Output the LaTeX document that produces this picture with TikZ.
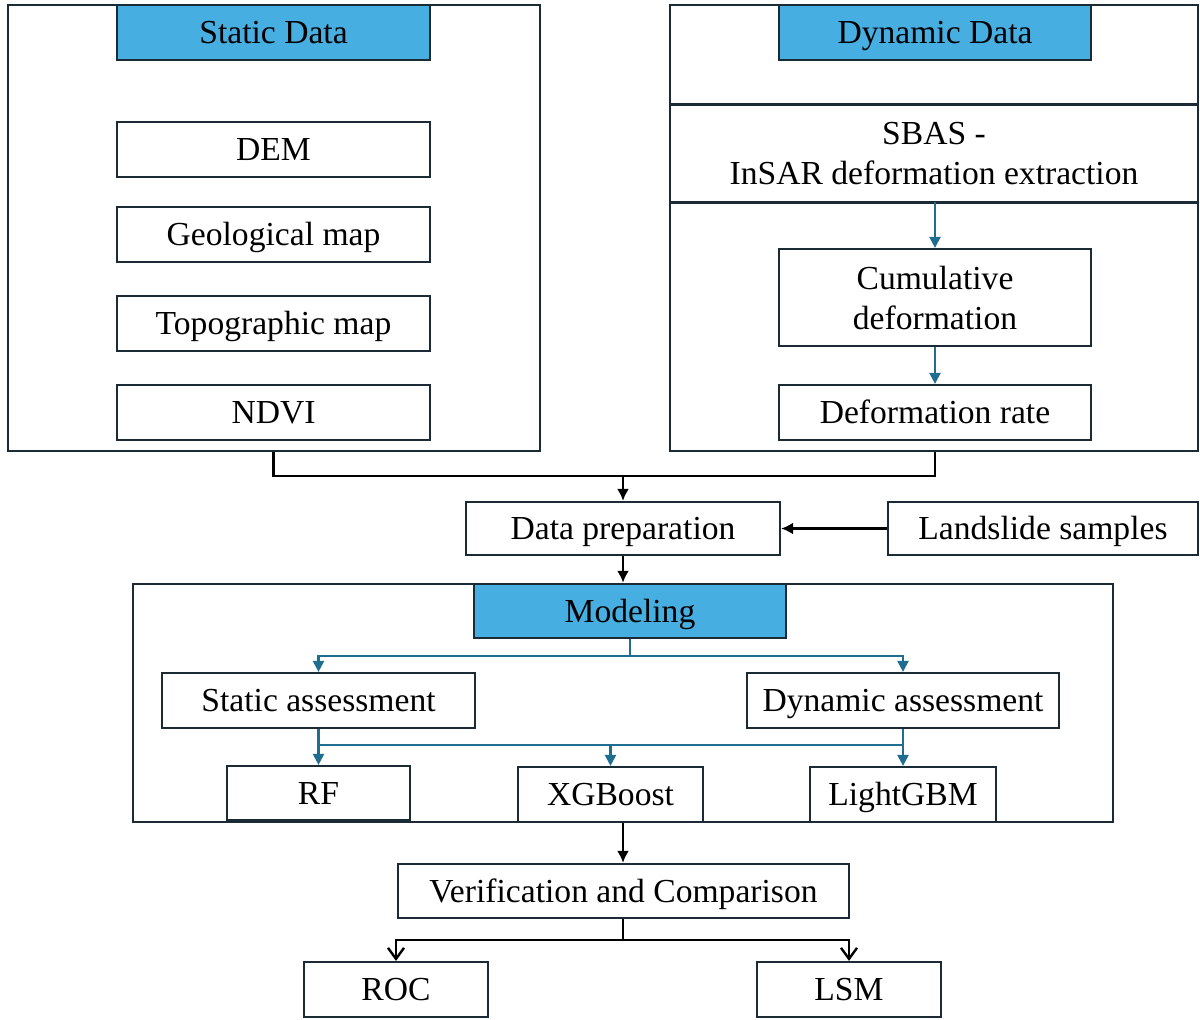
\documentclass[tikz,border=0pt]{standalone}
\usepackage{fontspec}
\setmainfont{Liberation Serif}
\usetikzlibrary{arrows.meta}
\definecolor{hdrblue}{HTML}{46AEE0}
\definecolor{arrblue}{HTML}{1F6E8F}
\definecolor{frame}{HTML}{1B2B35}
\tikzset{
  bx/.style 2 args={draw=frame, line width=1.1pt, fill=white, minimum width=#1*0.5pt, minimum height=#2*0.5pt, inner sep=0pt, align=center},
  one/.style={text height=13.3pt, text depth=2.1pt},
  hdr/.style 2 args={bx={#1}{#2}, fill=hdrblue},
  outer/.style 2 args={draw=frame, line width=1.2pt, minimum width=#1*0.5pt, minimum height=#2*0.5pt, inner sep=0pt},
  blk/.style={draw=black, line width=1.2pt, -{Latex[length=6pt,width=6pt]}},
  opn/.style={draw=black, line width=1.2pt, -{Straight Barb[length=5.5pt,width=8pt]}},
  blu/.style={draw=arrblue, line width=1.1pt, -{Triangle[length=5.5pt,width=5.5pt]}},
  bluline/.style={draw=arrblue, line width=1.1pt},
}
\begin{document}
\begin{tikzpicture}[x=0.5pt,y=-0.5pt, every node/.style={font=\fontsize{16.8}{20}\selectfont}]
\useasboundingbox (0,0) rectangle (1200,1019);
% static block
\node[outer={532}{446}] (static) at (274,228) {};
\node[hdr={313}{55}, one] (sdata) at (273.5,32.5) {Static Data};
\node[bx={313}{55}, one] (dem) at (273.5,149.5) {DEM};
\node[bx={313}{55}, one] (geo) at (273.5,234.5) {Geological map};
\node[bx={313}{55}, one] (topo) at (273.5,323.5) {Topographic map};
\node[bx={313}{55}, one] (ndvi) at (273.5,412.5) {NDVI};
% dynamic block
\node[outer={528}{446}] (dyn) at (934,228) {};
\node[hdr={312}{55}, one] (ddata) at (935,32.5) {Dynamic Data};
\node[minimum width=528*0.5pt, minimum height=97*0.5pt, inner sep=0pt, align=center] (sbas) at (934,153.5) {SBAS -\\InSAR deformation extraction};
\draw[draw=frame, line width=1.2pt] (sbas.north west) -- (sbas.north east);
\draw[draw=frame, line width=1.2pt] (sbas.south west) -- (sbas.south east);
\node[bx={312}{97}] (cum) at (935,297.5) {Cumulative\\deformation};
\node[bx={312}{55}, one] (rate) at (935,412.5) {Deformation rate};
\draw[blu] (sbas.south -| cum.north) -- (cum.north);
\draw[blu] (cum.south) -- (rate.north);
% data preparation
\node[bx={314}{53}, one] (prep) at (623,528.5) {Data preparation};
\node[bx={310}{53}, one] (land) at (1043,528.5) {Landslide samples};
\coordinate (j1) at (prep.north |- 0,476);
\draw[line width=1.2pt] (static.south -| ndvi.south) -- (ndvi.south |- j1) -| (dyn.south -| rate.south);
\draw[blk] (j1) -- (prep.north);
\draw[blk] (land.west) -- (prep.east);
% modeling
\node[outer={980}{238}] (model) at (623,703) {};
\draw[blk] (prep.south) -- (model.north -| prep.south);
\node[hdr={312}{54}, one] (mhdr) at (630,611) {Modeling};
\node[bx={313}{55}, one] (sass) at (318.5,700.5) {Static assessment};
\node[bx={312}{55}, one] (dass) at (903,700.5) {Dynamic assessment};
\node[bx={183}{54}, one] (rf) at (318.5,793) {RF};
\node[bx={185}{55}, one] (xgb) at (610.5,794.5) {XGBoost};
\node[bx={186}{55}, one] (lgbm) at (903,794.5) {LightGBM};
\coordinate (m1) at (mhdr.south |- 0,656);
\draw[bluline] (mhdr.south) -- (m1);
\draw[blu] (m1) -| (sass.north);
\draw[blu] (m1) -| (dass.north);
\coordinate (m2) at (sass.south |- 0,745);
\draw[blu] (sass.south) -- (rf.north);
\draw[bluline] (m2) -- (m2 -| dass.south);
\draw[blu] (m2 -| xgb.north) -- (xgb.north);
\draw[blu] (dass.south) -- (lgbm.north);
% verification
\node[bx={451}{54}, one] (ver) at (623.5,891) {Verification and Comparison};
\draw[blk] (model.south -| prep.south) -- (ver.north -| prep.south);
\node[bx={184}{55}, one] (roc) at (396,989.5) {ROC};
\node[bx={184}{55}, one] (lsm) at (849,989.5) {LSM};
\coordinate (v1) at (ver.south -| prep.south);
\coordinate (v2) at (prep.south |- 0,940);
\draw[line width=1.2pt] (v1) -- (v2);
\draw[opn] (v2) -| (roc.north);
\draw[opn] (v2) -| (lsm.north);
\end{tikzpicture}
\end{document}
